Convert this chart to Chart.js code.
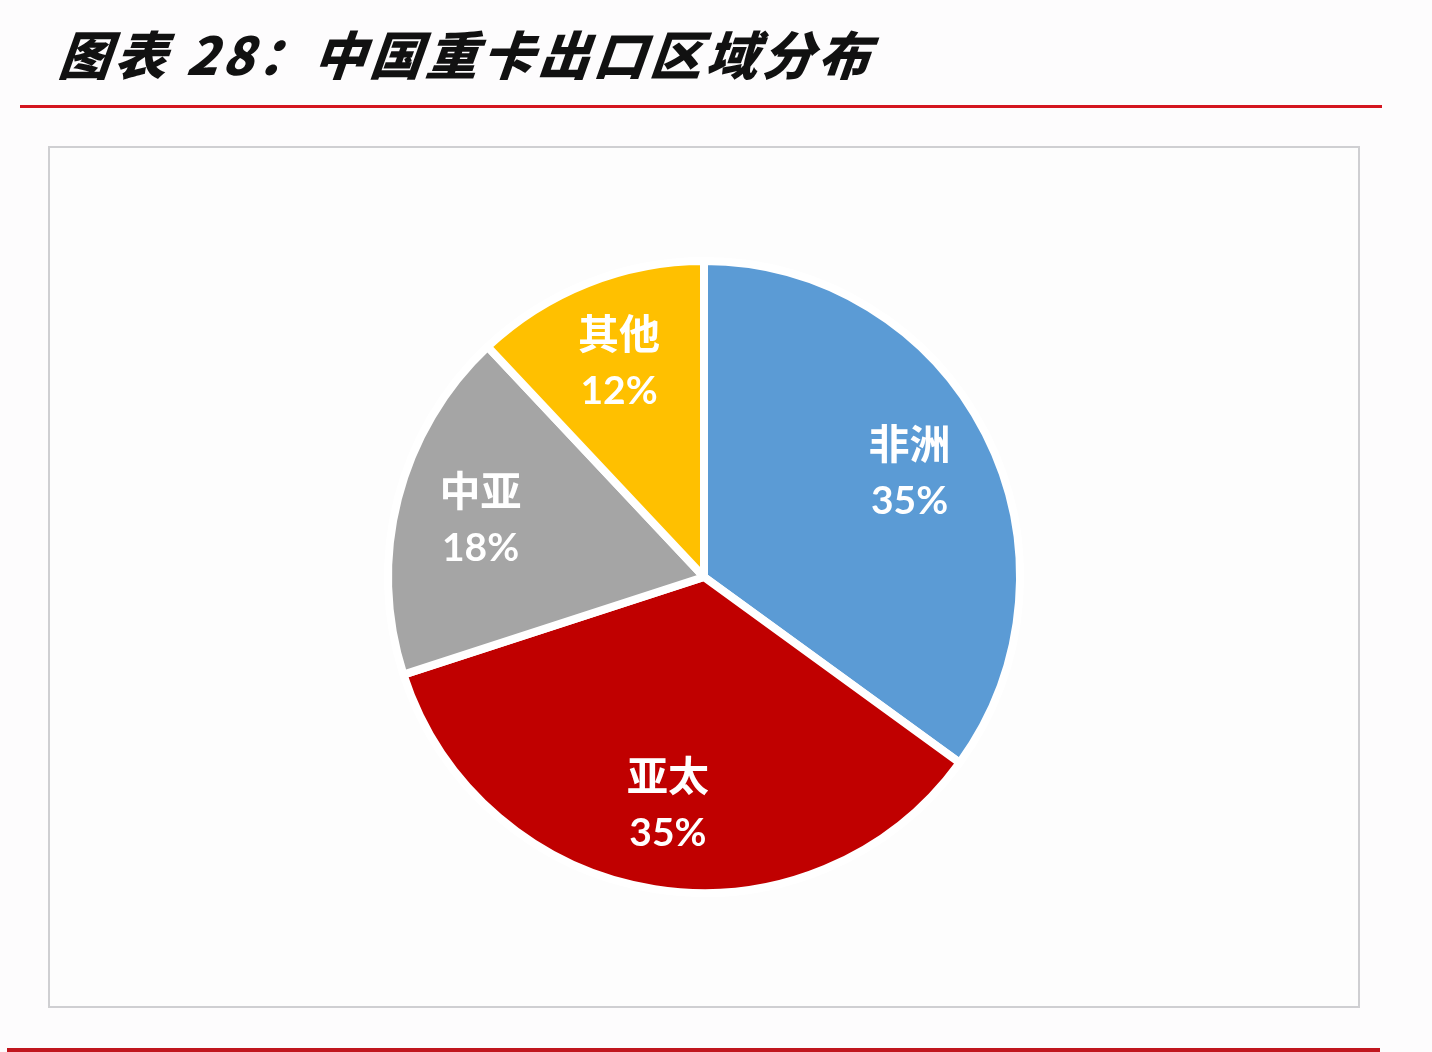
<!DOCTYPE html>
<html>
<head>
<meta charset="utf-8">
<script src="https://cdn.jsdelivr.net/npm/chart.js@4/dist/chart.umd.min.js"></script>
<style>
  html, body { margin: 0; padding: 0; background: #fdfcfd; }
  body { width: 1432px; height: 1052px; position: relative; overflow: hidden; }
  #title {
    position: absolute; left: 56px; top: 18px;
    font-family: "Noto Sans CJK SC", sans-serif; font-weight: 900; font-style: italic;
    font-size: 52px; line-height: 70px; letter-spacing: 4px; color: #111;
    transform: skewX(-6deg); transform-origin: left bottom;
  }
  #rule1 { position: absolute; left: 20px; top: 105px; width: 1362px; height: 3px; background: #d4151f; }
  #rule2 { position: absolute; left: 7px; top: 1048px; width: 1373px; height: 4px; background: #c0161e; }
  #box {
    position: absolute; left: 48px; top: 146px; width: 1308px; height: 858px;
    border: 2px solid #cfcfd2; background: #fdfdfd;
  }
  #box canvas { display: block; }
</style>
</head>
<body>
<div id="title">图表 28：中国重卡出口区域分布</div>
<div id="rule1"></div>
<div id="box"><canvas id="c" width="1308" height="858"></canvas></div>
<div id="rule2"></div>
<script>
const categories = ["非洲", "亚太", "中亚", "其他"];
const shares = [35, 35, 18, 12];
const colors = ["#5b9bd5", "#c00000", "#a5a5a5", "#ffc000"];

const labelPlugin = {
  id: 'sliceLabels',
  afterDatasetsDraw(chart) {
    const ctx = chart.ctx;
    const meta = chart.getDatasetMeta(0);
    meta.data.forEach((arc, i) => {
      const mid = (arc.startAngle + arc.endAngle) / 2;
      const r = arc.outerRadius * 0.73;
      const x = arc.x + Math.cos(mid) * r;
      const y = arc.y + Math.sin(mid) * r;
      ctx.save();
      ctx.fillStyle = '#ffffff';
      ctx.textAlign = 'center';
      ctx.textBaseline = 'middle';
      ctx.font = '700 41px "Noto Sans CJK SC", sans-serif';
      ctx.fillText(categories[i], x, y - 29);
      ctx.font = '700 39px Lato, "Open Sans", sans-serif';
      ctx.fillText(shares[i] + '%', x, y + 29);
      ctx.restore();
    });
  }
};

new Chart(document.getElementById('c'), {
  type: 'pie',
  data: {
    labels: categories,
    datasets: [{
      data: shares,
      backgroundColor: colors,
      borderColor: '#ffffff',
      borderWidth: 8
    }]
  },
  options: {
    responsive: false,
    animation: false,
    radius: 316,
    layout: { padding: 0 },
    plugins: {
      legend: { display: false },
      tooltip: { enabled: false }
    }
  },
  plugins: [labelPlugin]
});
</script>
</body>
</html>
